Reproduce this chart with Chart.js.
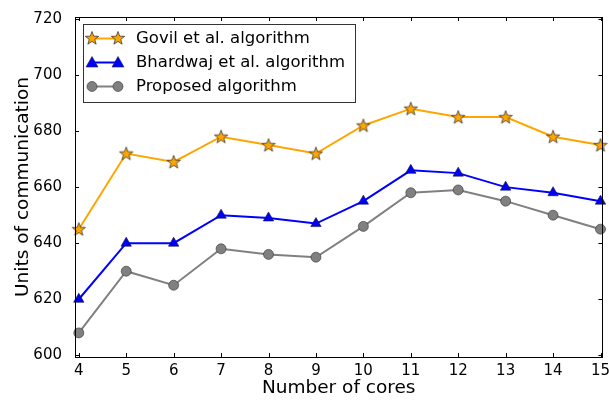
<!DOCTYPE html>
<html>
<head>
<meta charset="utf-8">
<script src="https://cdn.jsdelivr.net/npm/chart.js@4"></script>
<style>
  html, body { margin: 0; padding: 0; background: #fff; }
  #wrap { width: 609px; height: 401px; }
</style>
</head>
<body>
<div id="wrap"><canvas id="commChart" width="609" height="401"></canvas></div>
<script>
// данные с графика
const cores = [4, 5, 6, 7, 8, 9, 10, 11, 12, 13, 14, 15];
const govil = [645, 672, 669, 678, 675, 672, 682, 688, 685, 685, 678, 675];
const bhardwaj = [620, 640, 640, 650, 649, 647, 655, 666, 665, 660, 658, 655];
const proposed = [608, 630, 625, 638, 636, 635, 646, 658, 659, 655, 650, 645];
const yTicks = [600, 620, 640, 660, 680, 700, 720];

const FONT = "'DejaVu Sans', sans-serif";

// звезда как картинка для маркера
function makeStar(color) {
    const c = document.createElement('canvas');
    c.width = 16; c.height = 16;
    const g = c.getContext('2d');
    g.beginPath();
    for (let i = 0; i < 10; i++) {
        const r = i % 2 === 0 ? 7 : 2.9;
        const a = -Math.PI / 2 + i * Math.PI / 5;
        const px = 8 + r * Math.cos(a), py = 8.5 + r * Math.sin(a);
        if (i === 0) g.moveTo(px, py); else g.lineTo(px, py);
    }
    g.closePath();
    g.fillStyle = color;
    g.fill();
    g.lineWidth = 0.7;
    g.strokeStyle = '#222';
    g.stroke();
    return c;
}
const starImg = makeStar('#FFA500');

function pts(arr) { return cores.map((c, i) => ({ x: c, y: arr[i] })); }

// рамка и внутренние засечки как в matplotlib
const framePlugin = {
    id: 'frame',
    afterDraw(chart) {
        const ctx = chart.ctx, a = chart.chartArea;
        const xs = chart.scales.x, ys = chart.scales.y;
        ctx.save();
        ctx.strokeStyle = '#000';
        ctx.lineWidth = 1;
        ctx.beginPath();
        cores.forEach(v => {
            const px = Math.round(xs.getPixelForValue(v)) + 0.5;
            ctx.moveTo(px, a.bottom); ctx.lineTo(px, a.bottom - 4);
            ctx.moveTo(px, a.top); ctx.lineTo(px, a.top + 4);
        });
        yTicks.forEach(v => {
            const py = Math.round(ys.getPixelForValue(v)) + 0.5;
            ctx.moveTo(a.left, py); ctx.lineTo(a.left + 4, py);
            ctx.moveTo(a.right, py); ctx.lineTo(a.right - 4, py);
        });
        ctx.stroke();
        ctx.strokeRect(Math.round(a.left) + 0.5, Math.round(a.top) + 0.5,
            Math.round(a.right - a.left), Math.round(a.bottom - a.top));
        ctx.restore();
    }
};

// легенда: линия и два маркера
const legendPlugin = {
    id: 'mplLegend',
    afterDraw(chart) {
        const ctx = chart.ctx;
        const x0 = 83, y0 = 24, w = 272, h = 78;
        ctx.save();
        ctx.fillStyle = '#fff';
        ctx.fillRect(x0, y0, w, h);
        ctx.strokeStyle = '#333';
        ctx.lineWidth = 1;
        ctx.strokeRect(x0 + 0.5, y0 + 0.5, w, h);
        const rows = [38.5, 62.5, 86.5];
        chart.data.datasets.forEach((ds, i) => {
            const y = rows[i];
            ctx.strokeStyle = ds.borderColor;
            ctx.lineWidth = 2;
            ctx.beginPath();
            ctx.moveTo(92, y); ctx.lineTo(118, y);
            ctx.stroke();
            [92, 118].forEach(px => {
                if (ds.pointStyle === 'circle') {
                    ctx.beginPath();
                    ctx.arc(px, y, 5, 0, Math.PI * 2);
                    ctx.fillStyle = ds.pointBackgroundColor;
                    ctx.fill();
                    ctx.lineWidth = 0.6; ctx.strokeStyle = '#333'; ctx.stroke();
                } else if (ds.pointStyle === 'triangle') {
                    ctx.beginPath();
                    ctx.moveTo(px, y - 6); ctx.lineTo(px + 6, y + 4.5); ctx.lineTo(px - 6, y + 4.5);
                    ctx.closePath();
                    ctx.fillStyle = ds.pointBackgroundColor;
                    ctx.fill();
                    ctx.lineWidth = 0.6; ctx.strokeStyle = '#223'; ctx.stroke();
                } else {
                    ctx.drawImage(ds.pointStyle, px - 8, y - 8.5);
                }
            });
            ctx.fillStyle = '#000';
            ctx.font = '16.5px ' + FONT;
            ctx.textBaseline = 'middle';
            ctx.fillText(ds.label, 136, y + 0.5);
        });
        ctx.restore();
    }
};

new Chart(document.getElementById('commChart').getContext('2d'), {
    type: 'line',
    data: {
        datasets: [
            {
                label: 'Govil et al. algorithm',
                data: pts(govil),
                borderColor: '#FFA500',
                borderWidth: 2,
                pointStyle: starImg,
                pointBackgroundColor: '#FFA500',
                tension: 0
            },
            {
                label: 'Bhardwaj et al. algorithm',
                data: pts(bhardwaj),
                borderColor: '#0000FF',
                borderWidth: 2,
                pointStyle: 'triangle',
                pointRadius: 6,
                pointBackgroundColor: '#0000FF',
                pointBorderColor: '#112',
                pointBorderWidth: 0.6,
                tension: 0
            },
            {
                label: 'Proposed algorithm',
                data: pts(proposed),
                borderColor: '#808080',
                borderWidth: 2,
                pointStyle: 'circle',
                pointRadius: 5,
                pointBackgroundColor: '#808080',
                pointBorderColor: '#333',
                pointBorderWidth: 0.6,
                tension: 0
            }
        ]
    },
    options: {
        responsive: false,
        animation: false,
        clip: false,
        layout: { padding: { top: 17, right: 2, left: 0, bottom: 0 } },
        plugins: { legend: { display: false }, tooltip: { enabled: false } },
        scales: {
            x: {
                type: 'linear',
                min: 3.92,
                max: 15.04,
                afterBuildTicks: s => { s.ticks = cores.map(v => ({ value: v })); },
                afterFit: s => { s.height = 44; },
                grid: { display: false },
                border: { display: false },
                ticks: { color: '#000', font: { family: FONT, size: 15 }, padding: -3, maxRotation: 0 },
                title: { display: true, text: 'Number of cores', color: '#000', font: { family: FONT, size: 18.5 }, padding: { top: 0, bottom: 2 } }
            },
            y: {
                min: 599.4,
                max: 720.7,
                afterBuildTicks: s => { s.ticks = yTicks.map(v => ({ value: v })); },
                afterFit: s => { s.width = 75; },
                grid: { display: false },
                border: { display: false },
                ticks: { color: '#000', font: { family: FONT, size: 15 }, padding: 5 },
                title: { display: true, text: 'Units of communication', color: '#000', font: { family: FONT, size: 18.5 }, padding: { top: 12, bottom: 0 } }
            }
        }
    },
    plugins: [framePlugin, legendPlugin]
});
</script>
</body>
</html>
